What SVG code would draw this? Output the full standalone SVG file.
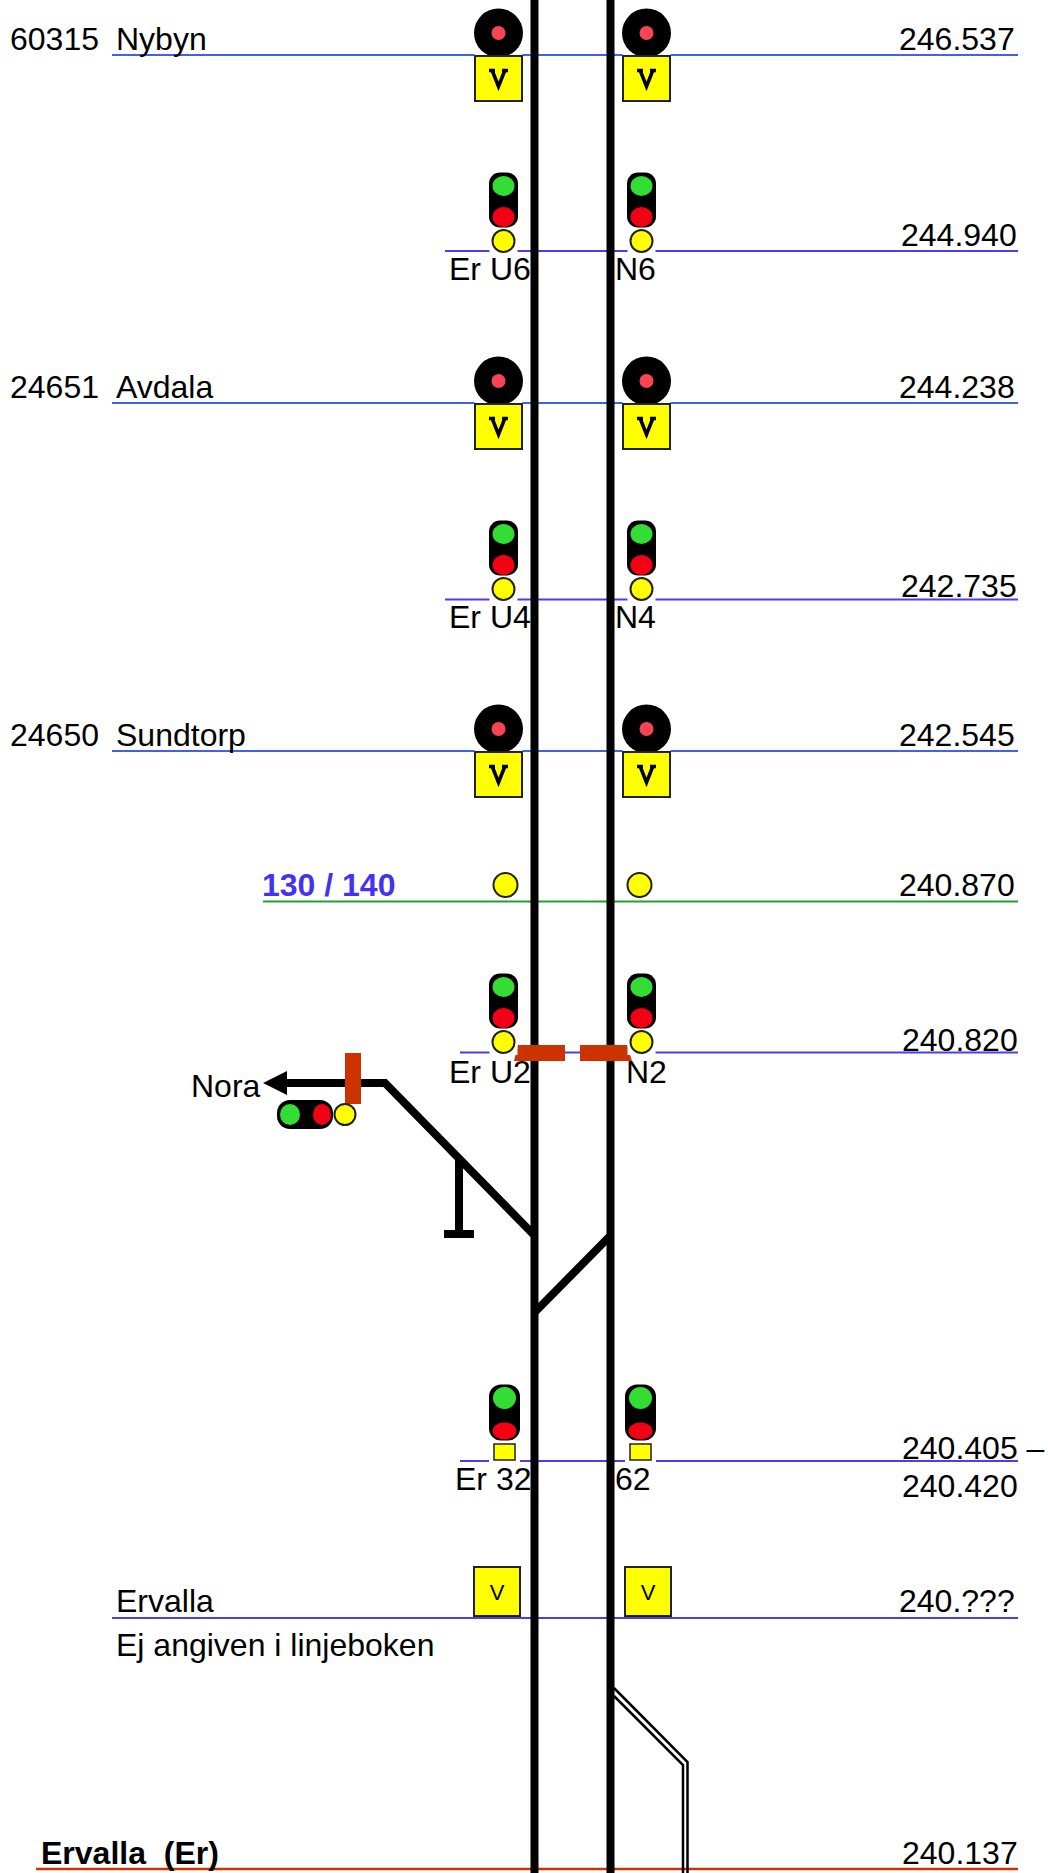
<svg xmlns="http://www.w3.org/2000/svg" width="1048" height="1873" viewBox="0 0 1048 1873">
<style>
text{font-family:"Liberation Sans",Arial,sans-serif;font-size:32px;fill:#000}
.b{font-weight:bold}
.km{stroke:#4a3df0;stroke-width:2;fill:none}
.kb{stroke:#3f62e8;stroke-width:2;fill:none}
.t{stroke:#000;stroke-width:8;fill:none}
.o{fill:#cc3300}
.y{fill:#ffff00;stroke:#222;stroke-width:2}
.g{fill:#33dd33}
.r{fill:#f40014}
.w{fill:#fff}
</style>
<defs>
<g id="dwarf"><rect class="w" x="-24" y="21" width="48" height="3"/><circle cx="0" cy="0" r="24.5" fill="#000"/><circle cx="0" cy="0" r="7" fill="#f84455"/><rect class="y" x="-23.500" y="23" width="47" height="45"/><path d="M-9.500 37.500H-3.500M3.500 37.500H9.500M-6.500 37L0 53.500L6.500 37" fill="none" stroke="#000" stroke-width="3.500"/></g>
<g id="sig"><rect class="w" x="-14" y="60" width="28" height="8"/><rect x="-14.500" y="-13.500" width="29" height="55" rx="11" fill="#000"/><ellipse class="g" cx="0" cy="0" rx="11" ry="10"/><ellipse class="r" cx="0" cy="31" rx="11" ry="10"/><circle class="y" cx="0" cy="55" r="11"/></g>
<g id="sigbox"><rect class="w" x="-15.500" y="50" width="31" height="14"/><rect x="-15.500" y="-13.500" width="31" height="56" rx="12" fill="#000"/><ellipse class="g" cx="0" cy="0" rx="11.500" ry="11"/><ellipse class="r" cx="0" cy="33" rx="12" ry="8.500"/><rect class="y" x="-10.500" y="46" width="21" height="16" style="stroke-width:1.500"/></g>
<g id="vbox"><rect class="y" x="-23" y="-50" width="46" height="49"/><text x="0" y="-17" text-anchor="middle" style="font-size:22px">V</text></g>
</defs>
<g id="connectors">
<path class="kb" d="M112 55H1018M112 403H1018M112 751H1018"/>
<path class="km" d="M445 251H1018M445 599.500H1018M460 1052.500H1018M460 1461H1018M112 1618H1018"/>
<path d="M263 901.500H1018" stroke="#22a030" stroke-width="2" fill="none"/>
<path d="M36 1869H1018" stroke="#cc3300" stroke-width="2.500" fill="none"/>
<path class="t" d="M534.500 0V1873M610.500 0V1873"/>
<path class="t" d="M534 1235L385 1083H275"/>
<path class="t" d="M459 1160V1235M444 1234H474"/>
<path class="t" d="M535 1312L610 1236"/>
<path d="M263 1083L287 1071V1095Z" fill="#000"/>
<path d="M614 1688L687.500 1762V1873M614 1696L683 1765V1873" fill="none" stroke="#000" stroke-width="2.500"/>
<rect class="o" x="345" y="1053" width="16" height="51"/>
<path class="o" d="M518 1045H565V1061H514ZM580 1045H627L632 1061H580Z"/>
</g>
<g id="sign-nybyn-l"><use href="#dwarf" x="498.500" y="33"/></g>
<g id="sign-nybyn-r"><use href="#dwarf" x="646.500" y="33"/></g>
<g id="sig-u6"><use href="#sig" x="503.500" y="186"/></g>
<g id="sig-n6"><use href="#sig" x="641.500" y="186"/></g>
<g id="sign-avdala-l"><use href="#dwarf" x="498.500" y="381"/></g>
<g id="sign-avdala-r"><use href="#dwarf" x="646.500" y="381"/></g>
<g id="sig-u4"><use href="#sig" x="503.500" y="534"/></g>
<g id="sig-n4"><use href="#sig" x="641.500" y="534"/></g>
<g id="sign-sundtorp-l"><use href="#dwarf" x="498.500" y="729"/></g>
<g id="sign-sundtorp-r"><use href="#dwarf" x="646.500" y="729"/></g>
<g id="marker-l"><circle class="y" cx="505.500" cy="885" r="12"/></g>
<g id="marker-r"><circle class="y" cx="639.500" cy="885" r="12"/></g>
<g id="sig-u2"><use href="#sig" x="503.500" y="987"/></g>
<g id="sig-n2"><use href="#sig" x="641.500" y="987"/></g>
<g id="sig-nora"><rect x="277" y="1100" width="56" height="29" rx="13" fill="#000"/><ellipse class="g" cx="290" cy="1114.500" rx="10" ry="10.500"/><ellipse class="r" cx="322" cy="1114.500" rx="9" ry="10.500"/><circle class="y" cx="345" cy="1114.500" r="10.500"/></g>
<g id="sig-32"><use href="#sigbox" x="504.500" y="1398"/></g>
<g id="sig-62"><use href="#sigbox" x="640.500" y="1398"/></g>
<g id="sign-ervalla-l"><use href="#vbox" x="497" y="1617"/></g>
<g id="sign-ervalla-r"><use href="#vbox" x="648" y="1617"/></g>
<g id="labels">
<text x="10" y="50">60315</text><text x="116" y="50">Nybyn</text><text x="899" y="50">246.537</text>
<text x="901" y="246">244.940</text><text x="449" y="280">Er U6</text><text x="615" y="280">N6</text>
<text x="10" y="398">24651</text><text x="116" y="398">Avdala</text><text x="899" y="398">244.238</text>
<text x="901" y="597">242.735</text><text x="449" y="628">Er U4</text><text x="615" y="628">N4</text>
<text x="10" y="746">24650</text><text x="116" y="746">Sundtorp</text><text x="899" y="746">242.545</text>
<text class="b" x="262" y="896" style="fill:#4433ee">130 / 140</text><text x="899" y="896">240.870</text>
<text x="902" y="1051">240.820</text><text x="449" y="1083">Er U2</text><text x="626" y="1083">N2</text>
<text x="191" y="1097">Nora</text>
<text x="902" y="1459">240.405 –</text><text x="902" y="1497">240.420</text><text x="455" y="1490">Er 32</text><text x="615" y="1490">62</text>
<text x="116" y="1612">Ervalla</text><text x="899" y="1612">240.???</text><text x="116" y="1656">Ej angiven i linjeboken</text>
<text class="b" x="41" y="1864">Ervalla&#160; (Er)</text><text x="902" y="1864">240.137</text>
</g>
</svg>
